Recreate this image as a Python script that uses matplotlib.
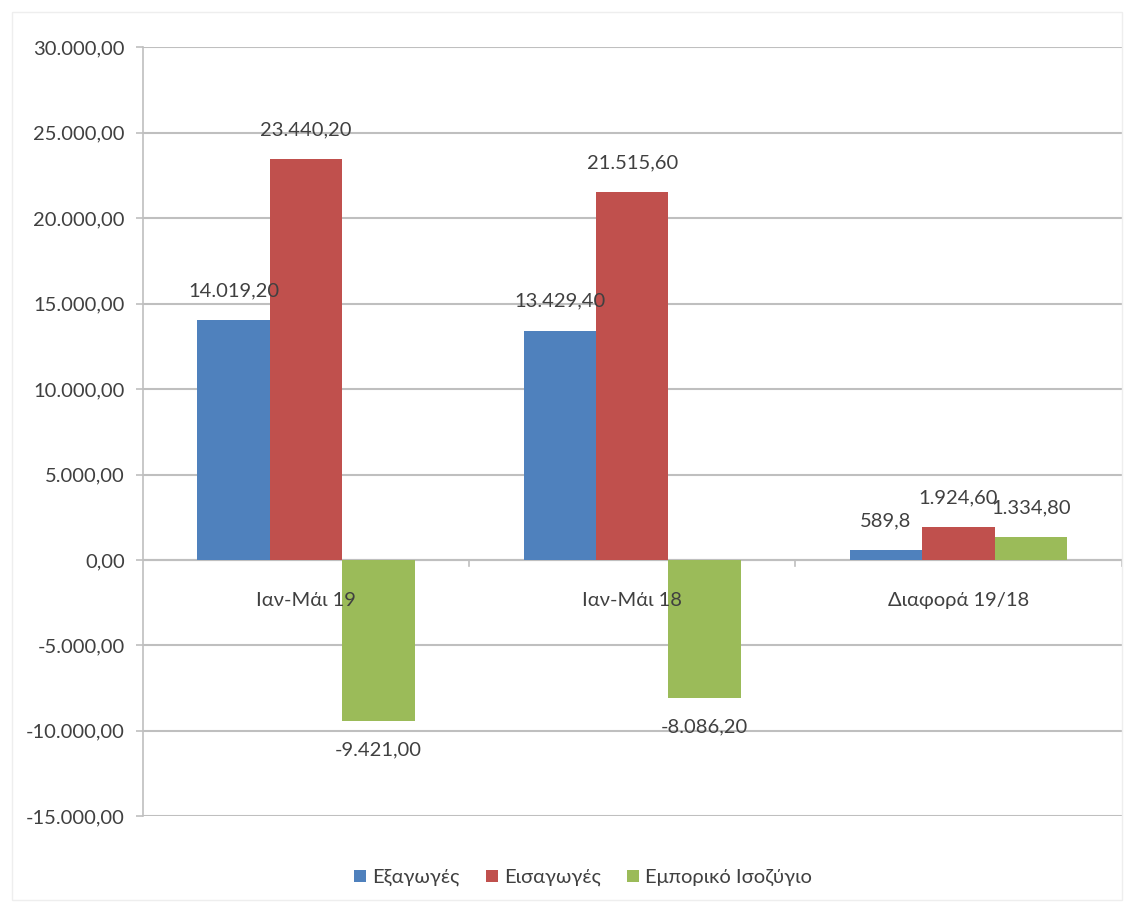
import matplotlib.pyplot as plt
from matplotlib.patches import Rectangle
import numpy as np

categories = ['Ιαν-Μάι 19', 'Ιαν-Μάι 18', 'Διαφορά 19/18']
series_names = ['Εξαγωγές', 'Εισαγωγές', 'Εμπορικό Ισοζύγιο']
exports = [14019.2, 13429.4, 589.8]
imports = [23440.2, 21515.6, 1924.6]
balance = [-9421.0, -8086.2, 1334.8]
value_labels = [
    ['14.019,20', '13.429,40', '589,8'],
    ['23.440,20', '21.515,60', '1.924,60'],
    ['-9.421,00', '-8.086,20', '1.334,80'],
]
y_ticks = [-15000, -10000, -5000, 0, 5000, 10000, 15000, 20000, 25000, 30000]

colors = ['#4F81BD', '#C0504D', '#9BBB59']
text_col = '#404040'
grid_col = '#BFBFBF'

plt.rcParams['font.family'] = ['Lato', 'DejaVu Sans']

fig = plt.figure(figsize=(11.34, 9.11), dpi=100)
fig.patches.append(Rectangle((0.011, 0.012), 0.978, 0.975, transform=fig.transFigure,
                             fill=False, edgecolor='#EEEEEE', linewidth=1))
ax = fig.add_axes([0.126, 0.104, 0.863, 0.844])

x = np.arange(len(categories))
w = 0.222
all_series = [exports, imports, balance]
for i, vals in enumerate(all_series):
    pos = x + (i - 1) * w
    ax.bar(pos, vals, width=w, color=colors[i], label=series_names[i], zorder=3)
    for p, v, lab in zip(pos, vals, value_labels[i]):
        off = 21 if v >= 0 else -21
        ax.annotate(lab, (p, v), xytext=(0, off), textcoords='offset points',
                    ha='center', va='center', fontsize=14.5, color=text_col, zorder=5)

ax.set_xlim(-0.5, 2.5)
ax.set_ylim(-15000, 30000)
ax.set_yticks(y_ticks)
ax.set_yticklabels([f'{t:,.2f}'.replace(',', 'X').replace('.', ',').replace('X', '.') for t in y_ticks])
ax.grid(axis='y', color=grid_col, linewidth=1.5, zorder=0)

for s in ['top', 'right', 'bottom']:
    ax.spines[s].set_visible(False)
ax.spines['left'].set_color(grid_col)
ax.spines['left'].set_linewidth(1.2)
ax.axhline(0, color=grid_col, linewidth=1.5, zorder=2)

ax.set_xticks([])
for b in [0.5, 1.5, 2.5]:
    ax.plot([b, b], [0, -350], color=grid_col, linewidth=1.2, clip_on=False, zorder=2)
for xc, c in zip(x, categories):
    ax.text(xc, -2350, c, ha='center', va='center', fontsize=14.5, color=text_col, zorder=5)

ax.tick_params(axis='y', colors=grid_col, labelcolor=text_col, labelsize=14.5, length=5, width=1.2, pad=8)

leg = ax.legend(loc='center', bbox_to_anchor=(0.45, -0.08), ncol=3, frameon=False,
                fontsize=14.5, handlelength=0.6, handleheight=0.6, handletextpad=0.3,
                columnspacing=1.3, labelcolor=text_col)

fig.savefig('out.png', dpi=100)
